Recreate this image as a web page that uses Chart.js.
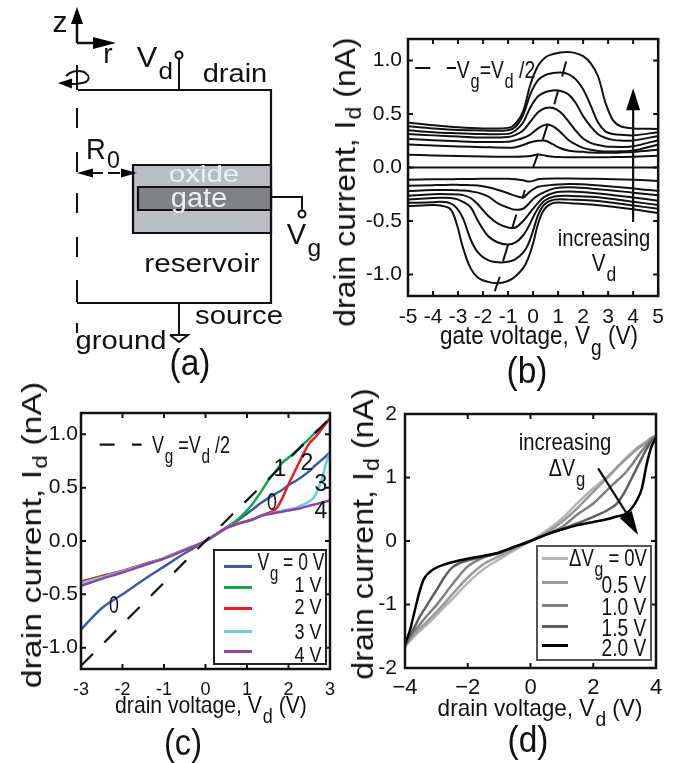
<!DOCTYPE html>
<html>
<head>
<meta charset="utf-8">
<title>drain current panels</title>
<script src="https://cdn.jsdelivr.net/npm/chart.js@4"></script>
<style>
  html, body { margin: 0; padding: 0; background: #fff; }
  #page { position: relative; width: 673px; height: 763px; overflow: hidden; }
  canvas { position: absolute; }
  .txt { position: absolute; white-space: nowrap; line-height: 1; color: #111; font-family: "Liberation Sans", Arial, sans-serif; }
  .sub { position: relative; top: 0.5em; font-size: 0.85em; margin-left: 0.05em; }
  .low { position: relative; top: 0.3em; font-size: 0.72em; margin-left: 0.05em; }
  .box { position: absolute; background: #fff; box-sizing: border-box; }
  .key { position: absolute; height: 3px; }
</style>
</head>
<body>
<div id="page">
  <canvas id="panelA" width="330" height="390" style="left:0;top:0"></canvas>
  <canvas id="panelB" width="343" height="390" style="left:330px;top:0"></canvas>
  <canvas id="panelC" width="345" height="373" style="left:0;top:390px"></canvas>
  <canvas id="panelD" width="328" height="373" style="left:345px;top:390px"></canvas>
</div>
<script>
// panel b: gate sweep, upper and lower families
const gateUp = [-5, -4, -3, -2, -1, -0.7, -0.4, -0.1, 0.2, 0.5, 0.8, 1.1, 1.4, 1.7, 2, 2.3, 2.6, 2.9, 3.2, 3.5, 4, 5];
const up1 = [0.42, 0.395, 0.375, 0.365, 0.37, 0.41, 0.525, 0.78, 0.95, 1.03, 1.06, 1.075, 1.078, 1.068, 1.04, 0.975, 0.85, 0.6, 0.44, 0.385, 0.365, 0.36];
const up2 = [0.385, 0.365, 0.35, 0.345, 0.348, 0.38, 0.49, 0.69, 0.815, 0.865, 0.882, 0.887, 0.872, 0.825, 0.73, 0.58, 0.42, 0.335, 0.313, 0.305, 0.3, 0.33];
const up3 = [0.348, 0.33, 0.32, 0.312, 0.314, 0.345, 0.42, 0.565, 0.665, 0.705, 0.72, 0.715, 0.685, 0.605, 0.48, 0.385, 0.31, 0.275, 0.258, 0.252, 0.252, 0.295];
const up4 = [0.314, 0.3, 0.29, 0.28, 0.285, 0.305, 0.345, 0.43, 0.515, 0.555, 0.555, 0.515, 0.435, 0.345, 0.27, 0.23, 0.21, 0.197, 0.193, 0.192, 0.198, 0.255];
const up5 = [0.267, 0.255, 0.245, 0.238, 0.24, 0.255, 0.275, 0.31, 0.365, 0.4, 0.385, 0.33, 0.26, 0.215, 0.183, 0.165, 0.155, 0.15, 0.15, 0.152, 0.158, 0.215];
const up6 = [0.214, 0.205, 0.197, 0.19, 0.185, 0.19, 0.21, 0.235, 0.25, 0.25, 0.215, 0.18, 0.158, 0.15, 0.146, 0.14, 0.138, 0.137, 0.137, 0.14, 0.145, 0.165];
const up7 = [0.12, 0.112, 0.107, 0.103, 0.1, 0.1, 0.102, 0.108, 0.122, 0.11, 0.1, 0.097, 0.095, 0.095, 0.095, 0.095, 0.095, 0.095, 0.097, 0.098, 0.1, 0.11];

const gateDown = [-5, -4, -3.7, -3.3, -3.05, -2.8, -2.5, -2.2, -1.8, -1.4, -1, -0.7, -0.4, -0.2, 0, 0.2, 0.45, 0.85, 1.5, 2.5, 4, 5];
const down1 = [-0.36, -0.35, -0.355, -0.39, -0.53, -0.75, -0.94, -1.03, -1.068, -1.08, -1.06, -1.015, -0.94, -0.85, -0.71, -0.525, -0.39, -0.33, -0.335, -0.35, -0.39, -0.425];
const down2 = [-0.33, -0.325, -0.32, -0.335, -0.38, -0.475, -0.67, -0.795, -0.865, -0.885, -0.88, -0.855, -0.795, -0.72, -0.59, -0.445, -0.345, -0.3, -0.3, -0.31, -0.355, -0.385];
const down3 = [-0.3, -0.285, -0.283, -0.285, -0.295, -0.32, -0.37, -0.5, -0.64, -0.7, -0.72, -0.7, -0.635, -0.56, -0.465, -0.38, -0.31, -0.27, -0.265, -0.275, -0.32, -0.35];
const down4 = [-0.265, -0.25, -0.248, -0.25, -0.252, -0.258, -0.285, -0.345, -0.45, -0.525, -0.56, -0.56, -0.5, -0.445, -0.385, -0.33, -0.275, -0.235, -0.225, -0.24, -0.28, -0.31];
const down5 = [-0.22, -0.21, -0.21, -0.21, -0.212, -0.215, -0.222, -0.235, -0.27, -0.335, -0.375, -0.395, -0.385, -0.345, -0.295, -0.26, -0.23, -0.195, -0.185, -0.2, -0.235, -0.26];
const down6 = [-0.17, -0.165, -0.163, -0.162, -0.162, -0.163, -0.165, -0.168, -0.185, -0.21, -0.24, -0.265, -0.28, -0.24, -0.205, -0.18, -0.17, -0.16, -0.155, -0.165, -0.195, -0.22];
const down7 = [-0.115, -0.11, -0.11, -0.11, -0.108, -0.108, -0.107, -0.106, -0.105, -0.105, -0.105, -0.11, -0.12, -0.13, -0.125, -0.11, -0.105, -0.102, -0.102, -0.105, -0.115, -0.125];
const zeroGate = [-5, 5];
const zeroCurrent = [0, 0];

// Vg=Vd/2 dashes, null breaks the line
const dashGate = [-4.71, -4.11, null, -3.45, -3.08, null, 0, 0.2, null, 0.39, 0.59, null, 0.85, 1, null, 1.16, 1.32, null, -0.43, -0.33, null, -0.84, -0.67, null, -1.2, -1, null, -1.53, -1.33];
const dashCurrent = [0.93, 0.93, null, 0.93, 0.93, null, 0, 0.13, null, 0.26, 0.41, null, 0.59, 0.72, null, 0.85, 0.99, null, -0.29, -0.21, null, -0.57, -0.44, null, -0.875, -0.72, null, -1.155, -1.02];

const gateTicks = [-5, -4, -3, -2, -1, 0, 1, 2, 3, 4, 5];
const gateLabels = ["-5", "-4", "-3", "-2", "-1", "0", "1", "2", "3", "4", "5"];
const currentTicks = [-1, -0.5, 0, 0.5, 1];
const currentLabels = ["-1.0", "-0.5", "0.0", "0.5", "1.0"];

// panel c
const drainC = [-3, -2.5, -2, -1.5, -1, -0.5, 0, 0.5, 0.8, 1.1, 1.35, 1.5, 1.7, 1.85, 2, 2.2, 2.35, 2.5, 2.65, 2.8, 2.9, 3];
const vg0 = [-0.83, -0.63, -0.5, -0.365, -0.24, -0.115, 0, 0.125, 0.2, 0.285, 0.36, 0.4, 0.445, 0.48, 0.525, 0.57, 0.61, 0.655, 0.71, 0.76, 0.795, 0.83];
const vg1 = [-0.385, -0.33, -0.28, -0.22, -0.16, -0.08, 0, 0.125, 0.21, 0.33, 0.47, 0.56, 0.66, 0.735, 0.78, 0.85, 0.905, 0.96, 1.02, 1.07, 1.11, 1.15];
const vg2 = [-0.38, -0.33, -0.28, -0.22, -0.16, -0.08, 0, 0.12, 0.165, 0.197, 0.24, 0.26, 0.3, 0.4, 0.53, 0.69, 0.81, 0.915, 0.975, 1.05, 1.1, 1.15];
const vg3 = [-0.395, -0.34, -0.285, -0.225, -0.16, -0.08, 0, 0.12, 0.165, 0.197, 0.235, 0.25, 0.27, 0.285, 0.295, 0.315, 0.34, 0.37, 0.43, 0.58, 0.72, 0.83];
const vg4 = [-0.42, -0.355, -0.295, -0.23, -0.165, -0.085, 0, 0.12, 0.165, 0.197, 0.235, 0.25, 0.265, 0.275, 0.285, 0.3, 0.315, 0.33, 0.345, 0.36, 0.37, 0.38];
const halfDrain = [-3, 0, 3];
const halfCurrent = [-1.17, 0, 1.15];
const keyDrain = [-2.55, -2.19, null, -1.77, -1.54];
const keyCurrent = [0.903, 0.903, null, 0.903, 0.903];
const drainCTicks = [-3, -2, -1, 0, 1, 2, 3];
const drainCLabels = ["-3", "-2", "-1", "0", "1", "2", "3"];
const vgColors = ["#3f5aa9", "#12a64f", "#ed1c24", "#6dcde1", "#8e44a5"];

// panel d
const drainD = [-4, -3.85, -3.7, -3.55, -3.4, -3.2, -3, -2.75, -2.5, -2, -1.5, -1, -0.5, 0, 0.5, 1, 1.5, 2, 2.5, 2.75, 3, 3.2, 3.4, 3.55, 3.7, 3.85, 4];
const dv00 = [-1.66, -1.58, -1.5, -1.43, -1.36, -1.27, -1.17, -1.04, -0.92, -0.66, -0.445, -0.29, -0.14, 0, 0.16, 0.35, 0.6, 0.83, 1.04, 1.16, 1.29, 1.38, 1.47, 1.52, 1.57, 1.62, 1.65];
const dv05 = [-1.65, -1.55, -1.46, -1.39, -1.32, -1.22, -1.12, -0.985, -0.845, -0.575, -0.365, -0.24, -0.12, 0, 0.13, 0.3, 0.52, 0.775, 1.02, 1.15, 1.27, 1.36, 1.45, 1.5, 1.56, 1.62, 1.66];
const dv10 = [-1.65, -1.53, -1.42, -1.33, -1.235, -1.12, -1.01, -0.85, -0.69, -0.4, -0.26, -0.185, -0.095, 0, 0.11, 0.22, 0.42, 0.59, 0.83, 0.945, 1.06, 1.18, 1.32, 1.42, 1.51, 1.6, 1.66];
const dv15 = [-1.65, -1.5, -1.36, -1.21, -1.09, -0.93, -0.776, -0.575, -0.42, -0.305, -0.25, -0.19, -0.09, 0, 0.1, 0.19, 0.28, 0.38, 0.5, 0.59, 0.77, 0.965, 1.16, 1.31, 1.45, 1.57, 1.63];
const dv20 = [-1.62, -1.42, -1.12, -0.82, -0.6, -0.485, -0.42, -0.37, -0.335, -0.28, -0.235, -0.18, -0.09, 0, 0.1, 0.18, 0.25, 0.3, 0.35, 0.385, 0.42, 0.5, 0.65, 0.83, 1.2, 1.48, 1.62];
const dvColors = ["#b5b5b5", "#9a9a9a", "#808080", "#5f5f5f", "#000000"];
const drainDTicks = [-4, -2, 0, 2, 4];
const drainDLabels = ["\u22124", "\u22122", "0", "2", "4"];
const currentDTicks = [-2, -1, 0, 1, 2];
const currentDLabels = ["-2", "-1", "0", "1", "2"];

// panel a: device outline in schematic units
const wallR = [78, 271, 271, 77];
const wallZ = [90, 90, 303, 303];
const axisDashR = [77, 77, null, 77, 77, null, 77, 77, null, 77, 77, null, 77, 77, null, 77, 77, null, 77, 77];
const axisDashZ = [65, 90, null, 108, 128, null, 152, 172, null, 193, 213, null, 237, 257, null, 280, 302, null, 323, 333];
const oxideR = [133, 271];
const oxideZ = [165, 233];
const gateR = [138, 271];
const gateZ = [187, 210];
const drainWireR = [179, 179];
const drainWireZ = [90, 58];
const sourceWireR = [179, 179];
const sourceWireZ = [303, 334];
const groundR = [170, 188, 179, 170];
const groundZ = [335, 335, 342, 335];
const gateWireR = [271, 302, 302];
const gateWireZ = [197, 197, 211];
const terminalR = [179, 302];
const terminalZ = [55, 214];
const spinR = [66, 70, 77, 84, 89, 88, 82, 74, 66];
const spinZ = [76, 73, 71, 72, 76, 80, 83, 84, 83];
const radiusDashR = [92, 103, null, 108, 120];
const radiusDashZ = [173, 173, null, 173, 173];

Chart.defaults.font.family = '"Liberation Sans", Arial, sans-serif';
Chart.defaults.color = "#111";

const page = document.getElementById("page");

function zip(xs, ys) {
  return xs.map((x, i) => ({ x: x, y: ys[i] }));
}

// line dataset, later calls are painted on top
let paintOrder = 0;
function line(xs, ys, color, width, extra) {
  paintOrder -= 1;
  return Object.assign({
    data: zip(xs, ys),
    showLine: true,
    borderColor: color,
    backgroundColor: color,
    borderWidth: width,
    pointRadius: 0,
    fill: false,
    order: paintOrder,
  }, extra || {});
}

function curve(xs, ys, color, width) {
  return line(xs, ys, color, width, { cubicInterpolationMode: "monotone" });
}

// softer spline for the panel b family, its peaks look kinked with monotone
function soft(xs, ys) {
  return line(xs, ys, "#111", 2, { tension: 0.35 });
}

// frame with inward ticks on all four sides
const framePlugin = {
  id: "frame",
  afterDatasetsDraw(chart) {
    const { ctx, chartArea: a, scales } = chart;
    ctx.save();
    ctx.strokeStyle = "#111";
    ctx.lineWidth = 2;
    ctx.beginPath();
    scales.x.ticks.forEach((t) => {
      const px = scales.x.getPixelForValue(t.value);
      ctx.moveTo(px, a.bottom);
      ctx.lineTo(px, a.bottom - 5);
      ctx.moveTo(px, a.top);
      ctx.lineTo(px, a.top + 5);
    });
    scales.y.ticks.forEach((t) => {
      const py = scales.y.getPixelForValue(t.value);
      ctx.moveTo(a.left, py);
      ctx.lineTo(a.left + 5, py);
      ctx.moveTo(a.right, py);
      ctx.lineTo(a.right - 5, py);
    });
    ctx.stroke();
    ctx.lineWidth = 2.5;
    ctx.strokeRect(a.left, a.top, a.right - a.left, a.bottom - a.top);
    ctx.restore();
  },
};

// arrow heads, given in data values, size in pixels
function headPlugin(heads) {
  return {
    id: "heads",
    afterDatasetsDraw(chart) {
      const { ctx, scales } = chart;
      ctx.save();
      ctx.fillStyle = "#000";
      heads.forEach((h) => {
        const x0 = scales.x.getPixelForValue(h[0]);
        const y0 = scales.y.getPixelForValue(h[1]);
        const x1 = scales.x.getPixelForValue(h[2]);
        const y1 = scales.y.getPixelForValue(h[3]);
        const ang = Math.atan2(y1 - y0, x1 - x0);
        const len = h[4];
        const wid = h[5];
        ctx.beginPath();
        ctx.moveTo(x1, y1);
        ctx.lineTo(x1 - len * Math.cos(ang) - wid * Math.sin(ang), y1 - len * Math.sin(ang) + wid * Math.cos(ang));
        ctx.lineTo(x1 - len * Math.cos(ang) + wid * Math.sin(ang), y1 - len * Math.sin(ang) - wid * Math.cos(ang));
        ctx.closePath();
        ctx.fill();
      });
      ctx.restore();
    },
  };
}

function plotAxis(range, ticks, labels, size, pad, fitSize, dim) {
  return {
    type: "linear",
    min: range[0],
    max: range[1],
    grid: { display: false, drawTicks: false },
    border: { display: false },
    afterBuildTicks: (s) => {
      s.ticks = ticks.map((v) => ({ value: v }));
    },
    afterFit: (s) => {
      s[dim] = fitSize;
    },
    ticks: {
      autoSkip: false,
      maxRotation: 0,
      padding: pad,
      color: "#111",
      font: { size: size },
      callback: (v, i) => labels[i],
    },
  };
}

function makePlot(id, datasets, x, y, pad, heads) {
  return new Chart(document.getElementById(id), {
    type: "scatter",
    data: { datasets: datasets },
    options: {
      responsive: false,
      animation: false,
      layout: { autoPadding: false, padding: pad },
      plugins: { legend: { display: false }, tooltip: { enabled: false } },
      scales: { x: x, y: y },
    },
    plugins: [framePlugin, headPlugin(heads)],
  });
}

// text placed by centre, squeezed to the wanted length
function put(html, cx, cy, size, len, rot, color) {
  const el = document.createElement("div");
  el.className = "txt";
  el.innerHTML = html;
  el.style.fontSize = size + "px";
  if (color) el.style.color = color;
  el.style.left = cx + "px";
  el.style.top = cy + "px";
  page.appendChild(el);
  const sx = len ? len / el.offsetWidth : 1;
  el.style.transform = "translate(-50%,-50%) rotate(" + (rot || 0) + "deg) scaleX(" + sx + ")";
  return el;
}

function legendBox(left, top, width, height, border) {
  const el = document.createElement("div");
  el.className = "box";
  el.style.cssText = "left:" + left + "px;top:" + top + "px;width:" + width + "px;height:" + height + "px;border:2px solid " + border;
  page.appendChild(el);
}

function legendKey(x0, x1, y, color) {
  const el = document.createElement("div");
  el.className = "key";
  el.style.cssText = "left:" + x0 + "px;top:" + (y - 1.5) + "px;width:" + (x1 - x0) + "px;background:" + color;
  page.appendChild(el);
}

// ---- panel a
const sketchAxis = (max, rev) => ({ type: "linear", display: false, min: 0, max: max, reverse: rev });
new Chart(document.getElementById("panelA"), {
  type: "scatter",
  data: {
    datasets: [
      line(wallR, wallZ, "#111", 2.2),
      line(axisDashR, axisDashZ, "#111", 2),
      line(oxideR, [oxideZ[0], oxideZ[0]], "#111", 0, { backgroundColor: "#bcbdc0", fill: { target: { value: oxideZ[1] } } }),
      line([oxideR[1], oxideR[0], oxideR[0], oxideR[1], oxideR[1]], [oxideZ[0], oxideZ[0], oxideZ[1], oxideZ[1], oxideZ[0]], "#111", 2.2),
      line(gateR, [gateZ[0], gateZ[0]], "#111", 0, { backgroundColor: "#808285", fill: { target: { value: gateZ[1] } } }),
      line([gateR[1], gateR[0], gateR[0], gateR[1], gateR[1]], [gateZ[0], gateZ[0], gateZ[1], gateZ[1], gateZ[0]], "#111", 2.2),
      line(drainWireR, drainWireZ, "#111", 2),
      line(sourceWireR, sourceWireZ, "#111", 2),
      line(groundR, groundZ, "#111", 2, { backgroundColor: "#fff" }),
      line(gateWireR, gateWireZ, "#111", 2),
      line(terminalR, terminalZ, "#111", 2, { showLine: false, pointRadius: 3.5, pointBackgroundColor: "#fff", pointBorderColor: "#111", pointBorderWidth: 2 }),
      line(spinR, spinZ, "#111", 2, { cubicInterpolationMode: "monotone" }),
      line(radiusDashR, radiusDashZ, "#111", 2),
      line([77, 77], [43, 22], "#111", 2.5),
      line([77, 95], [43, 43], "#111", 2.5),
    ],
  },
  options: {
    responsive: false,
    animation: false,
    layout: { autoPadding: false, padding: 0 },
    plugins: { legend: { display: false }, tooltip: { enabled: false } },
    scales: { x: sketchAxis(330, false), y: sketchAxis(390, true) },
  },
  plugins: [headPlugin([
    [77, 43, 77, 7, 17, 6],
    [77, 43, 116, 43, 23, 6],
    [89, 84, 58, 83, 14, 5],
    [90, 173, 77, 173, 16, 4.5],
    [120, 173, 137, 173, 16, 4.5],
  ])],
});

put("z", 60, 22, 30);
put("r", 108, 54, 28);
put('V<span class="sub">d</span>', 155, 57, 29, 36);
put("drain", 235, 73, 25, 65);
put('R<span class="sub" style="top:.35em">0</span>', 103, 149, 29, 34);
put("oxide", 204, 174, 24, 70, 0, "#eef0f1");
put("gate", 199, 198, 27, 57, 0, "#eef0f1");
put('V<span class="sub">g</span>', 304, 234, 29, 34);
put("reservoir", 202, 263, 25, 115);
put("source", 239, 315, 25, 88);
put("ground", 121, 340, 25, 91);
put("(a)", 190, 363, 36, 41);

// ---- panel b
const bSets = [
  line(zeroGate, zeroCurrent, "#111", 2),
  soft(gateUp, up7),
  soft(gateUp, up6),
  soft(gateUp, up5),
  soft(gateUp, up4),
  soft(gateUp, up3),
  soft(gateUp, up2),
  soft(gateUp, up1),
  soft(gateDown, down7),
  soft(gateDown, down6),
  soft(gateDown, down5),
  soft(gateDown, down4),
  soft(gateDown, down3),
  soft(gateDown, down2),
  soft(gateDown, down1),
  line(dashGate, dashCurrent, "#111", 2),
  line([4, 4], [-0.51, 0.6], "#111", 2.2),
];
makePlot("panelB", bSets,
  plotAxis([-5, 5], gateTicks, gateLabels, 21, 9, 94, "height"),
  plotAxis([-1.2, 1.2], currentTicks, currentLabels, 21, 6, 78, "width"),
  { top: 39, right: 14, left: 0, bottom: 0 },
  [[4, 0, 4, 0.74, 22, 7]]);

put('drain current, I<span class="low">d</span> (nA)', 345, 182, 30, 290, -90);
put('gate voltage, V<span class="sub">g</span> (V)', 539, 336, 25, 198);
put('V<span class="sub">g</span>=V<span class="sub">d</span> /2', 496, 70, 24, 78);
put("increasing", 604, 238, 24, 92);
put('V<span class="sub">d</span>', 604, 263, 24, 24);
put("(b)", 527, 371, 36, 41);

// ---- panel c
const cSets = [
  curve(drainC, vg0, vgColors[0], 2.5),
  curve(drainC, vg1, vgColors[1], 2.5),
  curve(drainC, vg2, vgColors[2], 2.5),
  curve(drainC, vg3, vgColors[3], 2.5),
  curve(drainC, vg4, vgColors[4], 2.5),
  line(halfDrain, halfCurrent, "#111", 2.2, { borderDash: [17, 16] }),
  line(keyDrain, keyCurrent, "#111", 2.2),
];
makePlot("panelC", cSets,
  plotAxis([-3, 3], drainCTicks, drainCLabels, 18, 10, 94, "height"),
  plotAxis([-1.2, 1.2], currentTicks, currentLabels, 21, 3, 81, "width"),
  { top: 23, right: 12, left: 0, bottom: 0 },
  []);

put('drain current, I<span class="low">d</span> (nA)', 32, 535, 28, 306, -90);
put('drain voltage, V<span class="sub">d</span> (V)', 211, 705, 24, 192);
put('V<span class="sub">g</span> =V<span class="sub">d</span> /2', 191, 445, 24, 78);
put("1", 280, 468, 23);
put("2", 307, 462, 23);
put("3", 321, 483, 23);
put("4", 321, 510, 23);
put("0", 272, 502, 23, 10);
put("0", 114, 605, 23, 10);
legendBox(212.5, 549, 114, 116, "#222");
[566.7, 587.7, 608.3, 631.7, 651.7].forEach((y, i) => legendKey(224, 252, y, vgColors[i]));
put('V<span class="sub">g</span> = 0 V', 291, 562, 23, 67);
put("1 V", 308, 585, 22, 27);
put("2 V", 308, 607, 22, 27);
put("3 V", 308, 632, 22, 27);
put("4 V", 308, 655, 22, 27);
put("(c)", 183, 743, 36, 38);

// ---- panel d
const dSets = [
  curve(drainD, dv00, dvColors[0], 2.5),
  curve(drainD, dv05, dvColors[1], 2.5),
  curve(drainD, dv10, dvColors[2], 2.5),
  curve(drainD, dv15, dvColors[3], 2.5),
  curve(drainD, dv20, dvColors[4], 2.5),
  line([2.156, 3.2], [1.144, 0.33], "#111", 2.2),
];
makePlot("panelD", dSets,
  plotAxis([-4, 4], drainDTicks, drainDLabels, 22, 7, 95, "height"),
  plotAxis([-2, 2], currentDTicks, currentDLabels, 21, 8, 60, "width"),
  { top: 24, right: 17, left: 0, bottom: 0 },
  [[2.156, 1.144, 3.43, 0.093, 24, 7]]);

put('drain current, I<span class="low">d</span> (nA)', 363, 534, 30, 292, -90);
put('drain voltage, V<span class="sub">d</span> (V)', 540, 708, 24, 205);
put("increasing", 565, 442, 24, 92);
put('\u0394V<span class="sub">g</span>', 567, 468, 24, 36);
legendBox(536, 545, 116, 116, "#555");
[558.3, 582.7, 605, 626, 645].forEach((y, i) => legendKey(542, 568, y, dvColors[i]));
put('\u0394V<span class="sub">g</span> = 0V', 608, 558, 23, 78);
put("0.5 V", 624, 585, 23, 45);
put("1.0 V", 624, 607, 23, 45);
put("1.5 V", 624, 628, 23, 45);
put("2.0 V", 624, 648, 23, 45);
put("(d)", 528, 740, 36, 41);
</script>
</body>
</html>
